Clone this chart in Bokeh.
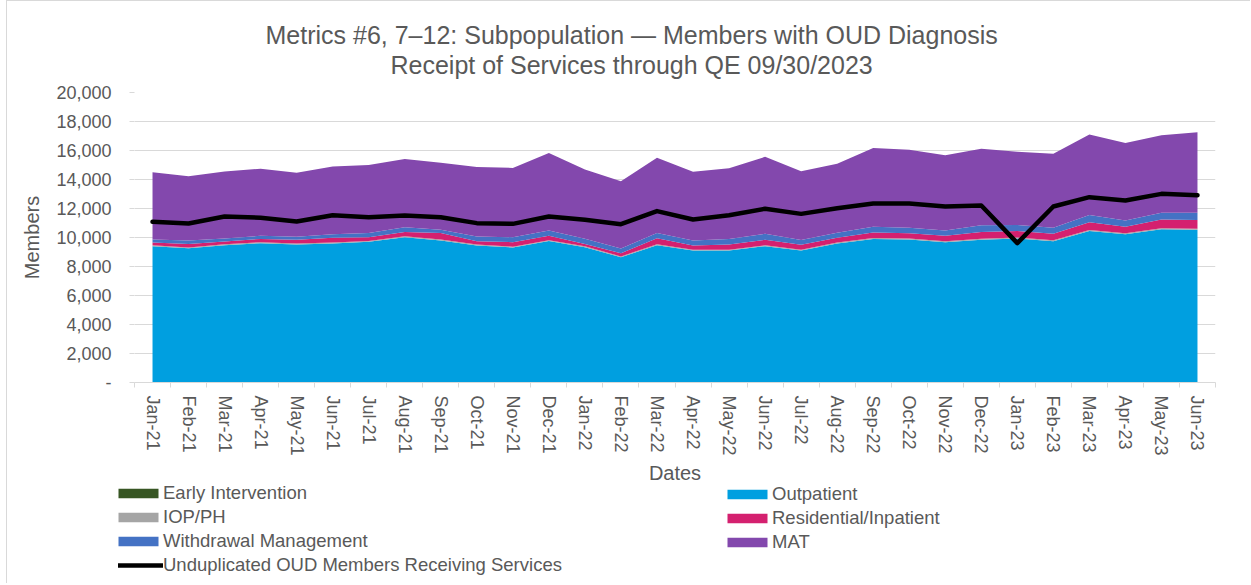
from bokeh.plotting import figure
from bokeh.layouts import column
from bokeh.models import (ColumnDataSource, FactorRange, Range1d, LinearAxis, CategoricalAxis,
                          FixedTicker, NumeralTickFormatter, Legend, LegendItem, Title)
from bokeh.embed import file_html
from bokeh.resources import INLINE

months = ["Jan-21", "Feb-21", "Mar-21", "Apr-21", "May-21", "Jun-21", "Jul-21", "Aug-21",
          "Sep-21", "Oct-21", "Nov-21", "Dec-21", "Jan-22", "Feb-22", "Mar-22", "Apr-22",
          "May-22", "Jun-22", "Jul-22", "Aug-22", "Sep-22", "Oct-22", "Nov-22", "Dec-22",
          "Jan-23", "Feb-23", "Mar-23", "Apr-23", "May-23", "Jun-23"]

early_intervention = [10, 10, 12, 10, 9, 11, 10, 12, 10, 9, 10, 11, 10, 9, 10,
                      10, 9, 10, 10, 11, 10, 10, 9, 10, 10, 10, 11, 10, 10, 10]
outpatient = [9390, 9250, 9460, 9600, 9510, 9580, 9690, 10010, 9780, 9440, 9300, 9740, 9320, 8630, 9460,
              9090, 9090, 9390, 9090, 9580, 9880, 9850, 9670, 9830, 9920, 9740, 10430, 10220, 10560, 10520]
iop_ph = [60, 55, 60, 65, 60, 60, 65, 70, 65, 60, 60, 65, 60, 55, 65,
          60, 60, 65, 60, 65, 70, 70, 65, 70, 70, 65, 75, 70, 75, 75]
residential = [190, 240, 190, 230, 260, 330, 260, 290, 450, 240, 310, 300, 170, 220, 420,
               290, 360, 380, 340, 330, 390, 360, 370, 470, 450, 440, 530, 450, 590, 610]
withdrawal = [210, 230, 210, 210, 210, 250, 280, 320, 230, 320, 340, 370, 350, 320, 350,
              340, 370, 410, 320, 340, 400, 390, 370, 460, 410, 420, 510, 430, 480, 500]
mat = [4640, 4440, 4620, 4630, 4410, 4670, 4690, 4710, 4620, 4800, 4780, 5340, 4780, 4650, 5190,
       4740, 4890, 5310, 4750, 4760, 5420, 5380, 5190, 5280, 5060, 5100, 5540, 5340, 5330, 5540]
unduplicated = [11080, 10970, 11450, 11360, 11100, 11540, 11400, 11520, 11400, 10990, 10940, 11450, 11220, 10920, 11820,
                11240, 11540, 11980, 11630, 12020, 12340, 12340, 12140, 12210, 9610, 12140, 12780, 12550, 13010, 12920]

y_ticks = [0, 2000, 4000, 6000, 8000, 10000, 12000, 14000, 16000, 18000, 20000]

series_keys = ["ei", "op", "iop", "res", "wd", "mat"]
series_names = ["Early Intervention", "Outpatient", "IOP/PH", "Residential/Inpatient",
                "Withdrawal Management", "MAT"]
series_colors = ["#375623", "#009FE0", "#A5A5A5", "#D4206F", "#4472C4", "#8348AD"]
line_name = "Unduplicated OUD Members Receiving Services"
title_lines = ["Metrics #6, 7\u201312: Subpopulation \u2014 Members with OUD Diagnosis",
               "Receipt of Services through QE 09/30/2023"]

FONT = "Liberation Sans"
GREY = "#595959"
LIGHT = "#d9d9d9"
W = 1243

src = ColumnDataSource(dict(month=months, ei=early_intervention, op=outpatient, iop=iop_ph,
                            res=residential, wd=withdrawal, mat=mat, und=unduplicated))

p = figure(x_range=FactorRange(*months), y_range=Range1d(0, 20000),
           width=W, height=490, output_backend="svg", toolbar_location=None,
           x_axis_location=None, min_border_left=127, min_border_right=35,
           min_border_top=91, min_border_bottom=109)
p.outline_line_color = None

areas = p.varea_stack(stackers=series_keys, x="month", color=series_colors, source=src)
ln = p.line(x="month", y="und", source=src, line_color="black", line_width=4.5,
            line_join="round", line_cap="round")

# y axis
p.yaxis.ticker = FixedTicker(ticks=y_ticks)
p.yaxis.formatter = NumeralTickFormatter(format="0,0")
p.yaxis.major_label_overrides = {0: "-"}
p.yaxis.axis_line_color = None
p.yaxis.major_tick_line_color = LIGHT
p.yaxis.major_tick_out = 5
p.yaxis.major_tick_in = 0
p.yaxis.minor_tick_line_color = None
p.yaxis.major_label_standoff = 18
p.yaxis.major_label_text_font = FONT
p.yaxis.major_label_text_font_size = "18px"
p.yaxis.major_label_text_color = GREY
p.yaxis.axis_label = "Members"
p.yaxis.axis_label_text_font = FONT
p.yaxis.axis_label_text_font_size = "20px"
p.yaxis.axis_label_text_font_style = "normal"
p.yaxis.axis_label_text_color = GREY
p.yaxis.axis_label_standoff = 10
p.ygrid.grid_line_color = LIGHT
p.xgrid.visible = False

# x axis: boundary ticks (between categories) + category labels
tick_axis = LinearAxis(ticker=FixedTicker(ticks=list(range(len(months) + 1))),
                       major_label_text_font_size="1px", major_label_text_color=None,
                       major_label_standoff=0,
                       axis_line_color=LIGHT, major_tick_line_color=LIGHT,
                       major_tick_out=5, major_tick_in=0, minor_tick_line_color=None)
p.add_layout(tick_axis, "below")
cat_axis = CategoricalAxis(axis_line_color=None, major_tick_line_color=None,
                           major_label_orientation="vertical", major_label_standoff=2,
                           major_label_text_font=FONT, major_label_text_font_size="18px",
                           major_label_text_color=GREY, axis_label="Dates",
                           axis_label_text_font=FONT, axis_label_text_font_size="20px",
                           axis_label_text_font_style="normal", axis_label_text_color=GREY,
                           axis_label_standoff=3)
p.add_layout(cat_axis, "below")

# titles (left aligned with offsets so they centre on the whole chart)
title_offsets = [131, 256]
title_standoffs = [-29, 28]
for t, off, so in reversed(list(zip(title_lines, title_offsets, title_standoffs))):
    p.add_layout(Title(text=t, align="left", text_font=FONT, text_font_size="25px",
                       text_font_style="normal", text_color=GREY, offset=off, standoff=so), "above")

# legend strip below the chart (legend proxies are drawn off-range, so invisible)
lg = figure(width=W, height=102, x_range=FactorRange(*months), y_range=Range1d(-2, -1),
            output_backend="svg", toolbar_location=None, x_axis_location=None,
            y_axis_location=None, min_border=0)
lg.outline_line_color = None
lg.grid.visible = False
lg.background_fill_alpha = 0
lg.border_fill_alpha = 0
lg.styles = {"margin-left": "-16px", "margin-top": "-10px"}
proxies = [lg.varea(x="month", y1=k, y2=k, source=src, fill_color=c)
           for k, c in zip(series_keys, series_colors)]
line_proxy = lg.line(x="month", y="und", source=src, line_color="black", line_width=4.5,
                     line_cap="round")

def make_legend(items, loc):
    return Legend(items=items, location=loc, orientation="vertical", glyph_width=50,
                  glyph_height=12, label_height=20, label_standoff=0, spacing=2, padding=0,
                  margin=0, border_line_color=None, background_fill_alpha=0,
                  label_text_font=FONT, label_text_font_size="18.5px", label_text_color=GREY)

left_items = [LegendItem(label=series_names[0], renderers=[proxies[0]]),
              LegendItem(label=series_names[2], renderers=[proxies[2]]),
              LegendItem(label=series_names[4], renderers=[proxies[4]]),
              LegendItem(label=line_name, renderers=[line_proxy])]
right_items = [LegendItem(label=series_names[1], renderers=[proxies[1]]),
               LegendItem(label=series_names[3], renderers=[proxies[3]]),
               LegendItem(label=series_names[5], renderers=[proxies[5]])]
lg.add_layout(make_legend(left_items, (-5, 7)))
lg.add_layout(make_legend(right_items, (604, 30)))

layout = column(p, lg, spacing=0)
layout.styles = {"margin-left": "6px", "border-left": "1px solid #d9d9d9",
                 "border-top": "1px solid #d9d9d9"}

open("out.html", "w").write(file_html(layout, INLINE))
